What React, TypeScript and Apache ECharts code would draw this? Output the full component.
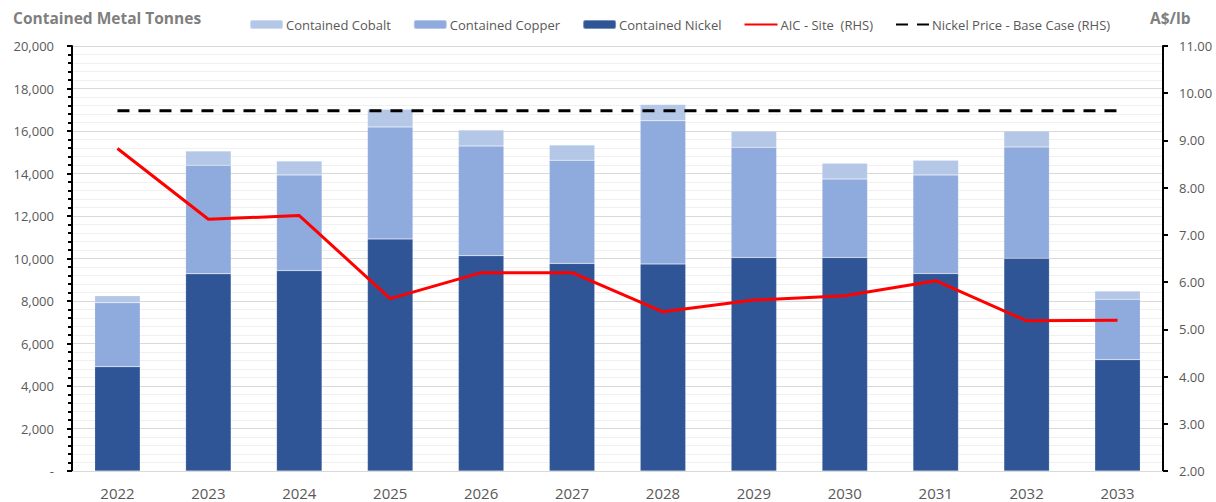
import React, { useEffect, useRef } from "react";
import * as echarts from "echarts";

const years = ["2022", "2023", "2024", "2025", "2026", "2027", "2028", "2029", "2030", "2031", "2032", "2033"];
const nickel = [4910, 9280, 9430, 10920, 10130, 9770, 9740, 10050, 10050, 9290, 10010, 5240];
const copper = [3010, 5105, 4500, 5270, 5160, 4850, 6740, 5180, 3690, 4640, 5240, 2840];
const cobalt = [330, 675, 660, 830, 760, 720, 770, 760, 740, 690, 750, 390];
const aicSite = [8.83, 7.33, 7.41, 5.65, 6.2, 6.2, 5.37, 5.62, 5.71, 6.03, 5.18, 5.19];
const nickelPrice = [9.63, 9.63, 9.63, 9.63, 9.63, 9.63, 9.63, 9.63, 9.63, 9.63, 9.63, 9.63];

const FONT = "Open Sans";
const GREY = "#595959";

export default function App() {
  const ref = useRef<HTMLDivElement>(null);
  useEffect(() => {
    if (!ref.current) return;
    const chart = echarts.init(ref.current, null, { renderer: "svg" });
    chart.setOption({
      animation: false,
      textStyle: { fontFamily: FONT },
      grid: { left: 72, right: 53, top: 46, bottom: 31, containLabel: false },
      graphic: [
        {
          type: "text",
          left: 13,
          top: 10,
          style: { text: "Contained Metal Tonnes", font: `bold 15.5px "${FONT}"`, fill: "#7f7f7f" },
        },
        {
          type: "text",
          left: 1150,
          top: 10,
          style: { text: "A$/lb", font: `bold 15.5px "${FONT}"`, fill: "#7f7f7f" },
        },
      ],
      legend: {
        top: 13,
        left: 244,
        itemWidth: 33,
        itemHeight: 9,
        itemGap: 22,
        textStyle: { fontFamily: FONT, fontSize: 13, color: GREY, padding: [0, 0, 0, -2] },
        data: [
          { name: "Contained Cobalt" },
          { name: "Contained Copper" },
          { name: "Contained Nickel" },
          { name: "AIC - Site  (RHS)", itemStyle: { opacity: 0 } },
          { name: "Nickel Price - Base Case (RHS)", itemStyle: { opacity: 0 } },
        ],
      },
      xAxis: {
        type: "category",
        data: years,
        axisLine: { show: true, lineStyle: { color: "#d9d9d9", width: 1 } },
        axisTick: { show: false },
        axisLabel: { color: GREY, fontSize: 15, margin: 14, fontFamily: FONT },
      },
      yAxis: [
        {
          type: "value",
          min: 0,
          max: 20000,
          interval: 2000,
          axisLine: { show: true, lineStyle: { color: "#000", width: 2 } },
          axisTick: { show: true, length: 5, lineStyle: { color: "#000", width: 2 } },
          minorTick: { show: true, splitNumber: 5, length: 4, lineStyle: { color: "#000", width: 2 } },
          splitLine: { show: true, lineStyle: { color: "#d9d9d9", width: 1 } },
          minorSplitLine: { show: true, lineStyle: { color: "#f0f0f0", width: 1 } },
          axisLabel: {
            color: GREY,
            fontSize: 13,
            margin: 18,
            fontFamily: FONT,
            formatter: (v: number) => (v === 0 ? "-" : v.toLocaleString("en-US")),
          },
        },
        {
          type: "value",
          min: 2,
          max: 11,
          interval: 1,
          position: "right",
          axisLine: { show: true, lineStyle: { color: "#000", width: 2 } },
          axisTick: { show: true, length: 5, lineStyle: { color: "#000", width: 2 } },
          splitLine: { show: false },
          axisLabel: {
            color: GREY,
            fontSize: 13,
            margin: 16,
            fontFamily: FONT,
            formatter: (v: number) => v.toFixed(2),
          },
        },
      ],
      series: [
        {
          name: "Contained Nickel",
          type: "bar",
          stack: "metal",
          data: nickel,
          barCategoryGap: "50%",
          itemStyle: { color: "#2F5597", borderColor: "rgba(255,255,255,0.35)", borderWidth: 0.5 },
        },
        {
          name: "Contained Copper",
          type: "bar",
          stack: "metal",
          data: copper,
          barCategoryGap: "50%",
          itemStyle: { color: "#8FAADC", borderColor: "rgba(255,255,255,0.35)", borderWidth: 0.5 },
        },
        {
          name: "Contained Cobalt",
          type: "bar",
          stack: "metal",
          data: cobalt,
          barCategoryGap: "50%",
          itemStyle: { color: "#B4C7E7", borderColor: "rgba(255,255,255,0.35)", borderWidth: 0.5 },
        },
        {
          name: "AIC - Site  (RHS)",
          type: "line",
          yAxisIndex: 1,
          data: aicSite,
          symbol: "none",
          lineStyle: { color: "#FF0000", width: 3 },
          itemStyle: { color: "#FF0000" },
          z: 5,
        },
        {
          name: "Nickel Price - Base Case (RHS)",
          type: "line",
          yAxisIndex: 1,
          data: nickelPrice,
          symbol: "none",
          lineStyle: { color: "#000000", width: 3, type: [12, 9] },
          itemStyle: { color: "#000000" },
          z: 5,
        },
      ],
    });
    return () => chart.dispose();
  }, []);
  return (
    <div
      ref={ref}
      style={{ position: "fixed", left: 0, top: 0, width: 1216, height: 502, background: "#fff" }}
    />
  );
}
